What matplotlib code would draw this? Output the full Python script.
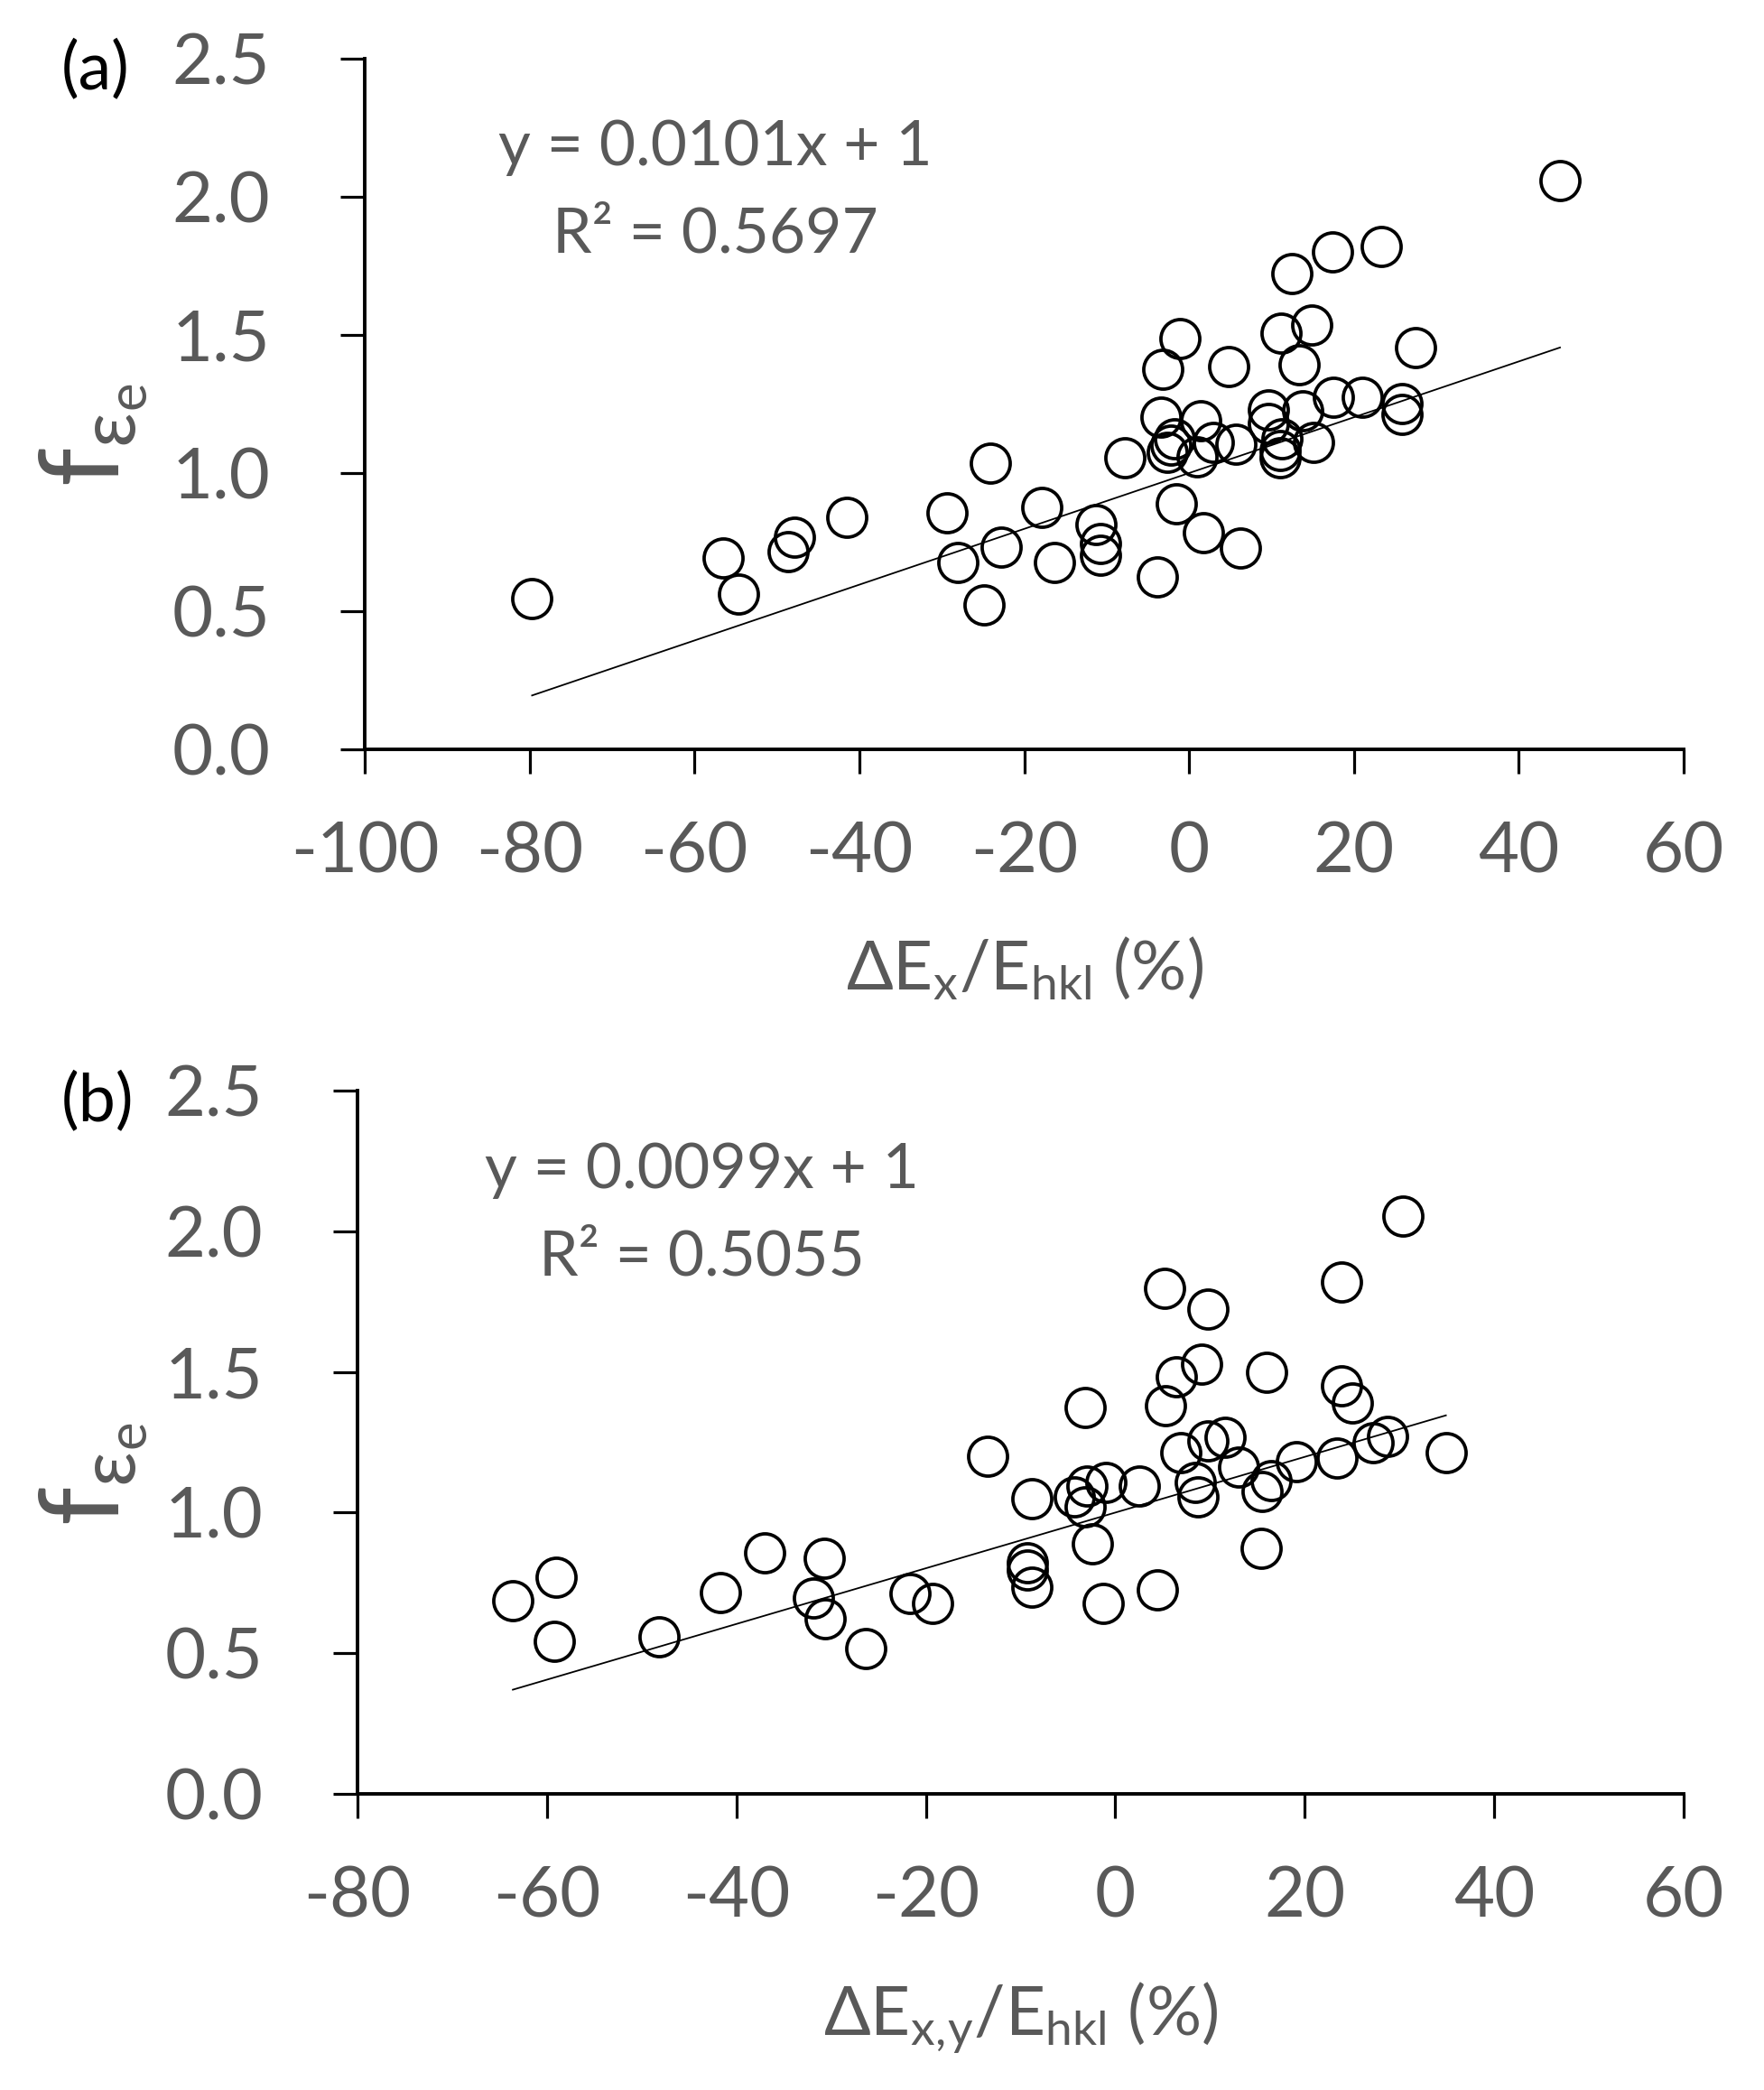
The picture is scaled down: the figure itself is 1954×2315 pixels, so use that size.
"""Two-panel scatter: f_eps_e against the modulus deviation, with the Excel-style
trendline (intercept fixed at 1) and its equation printed in the corner."""

import matplotlib
matplotlib.use("Agg")
import matplotlib.pyplot as plt
import numpy as np

# ---- data ---------------------------------------------------------------
# panel (a): dE_x / E_hkl (%)
x_a = [-79.7, -56.5, -54.7, -47.9, -48.6, -41.5, -29.4, -24.1, -17.9, -28.1,
       -22.8, -24.9, -16.3, -11.3, -10.8, -10.8, -7.8, 45.0, 23.3, 17.4,
       12.5, 14.9, 11.2, 27.5, -1.1, -3.2, 4.8, 13.3, -3.4, 1.4,
       -1.8, -2.2, -2.6, 1.0, 2.9, 5.7, 9.6, 9.6, 11.3, 11.1,
       11.1, 13.8, 15.1, 17.5, 21.0, 25.8, 25.8, -1.5, 1.7, 6.2,
       -3.9]
f_a = [0.545, 0.693, 0.562, 0.767, 0.716, 0.841, 0.857, 1.037, 0.876, 0.678,
       0.731, 0.522, 0.678, 0.813, 0.745, 0.701, 1.054, 2.059, 1.821, 1.800,
       1.722, 1.535, 1.505, 1.455, 1.487, 1.376, 1.385, 1.392, 1.203, 1.188,
       1.125, 1.100, 1.075, 1.060, 1.110, 1.103, 1.228, 1.180, 1.125, 1.083,
       1.055, 1.225, 1.112, 1.275, 1.275, 1.252, 1.214, 0.890, 0.785, 0.728,
       0.624]

# panel (b): dE_x,y / E_hkl (%)
x_b = [-63.6, -59.0, -59.2, -48.2, -41.7, -37.0, -30.7, -31.9, -30.6, -26.3,
       -21.7, -19.3, -13.5, -8.8, -9.3, -9.3, -8.8, 30.4, 5.2, 9.8,
       23.9, 9.1, 6.4, 16.0, 5.3, -3.2, 23.9, 25.0, -4.3, -3.0,
       -1.0, -3.2, 2.5, 6.9, 9.8, 11.6, 8.4, 8.7, 13.0, 16.4,
       15.5, 19.1, 23.4, 27.2, 28.7, 34.9, 15.4, -2.4, -1.3, 4.4]
f_b = [0.686, 0.769, 0.542, 0.558, 0.716, 0.858, 0.839, 0.698, 0.623, 0.518,
       0.711, 0.676, 1.201, 1.048, 0.822, 0.795, 0.735, 2.055, 1.797, 1.723,
       1.820, 1.527, 1.484, 1.498, 1.381, 1.373, 1.451, 1.390, 1.055, 1.094,
       1.108, 1.021, 1.094, 1.214, 1.254, 1.268, 1.108, 1.055, 1.161, 1.115,
       1.075, 1.181, 1.194, 1.247, 1.271, 1.214, 0.872, 0.888, 0.676, 0.726]

# trendline coefficients as printed on the chart
slope_a, r2_a = 0.0101, 0.5697
slope_b, r2_b = 0.0099, 0.5055
intercept = 1.0

xticks_a = np.arange(-100, 61, 20)
xticks_b = np.arange(-80, 61, 20)
yticks = np.arange(0.0, 2.51, 0.5)

GREY = "#595959"
FONT = "Lato"

plt.rcParams["font.family"] = [FONT, "DejaVu Sans"]


def draw_panel(fig, rect, x, f, slope, r2, xticks, xlabel, tag,
               eq_x, eq_y1, eq_y2, xlab_y, ylab_xy, tag_xy):
    ax = fig.add_axes(rect)
    ax.plot(x, f, linestyle="none", marker="o", ms=31, mew=2.7,
            mfc="none", mec="black", zorder=3)

    xs = np.array([min(x), max(x)])
    ax.plot(xs, slope * xs + intercept, color="black", lw=1.3, zorder=2)

    ax.set_xlim(xticks[0], xticks[-1])
    ax.set_ylim(0, 2.5)
    ax.set_xticks(xticks)
    ax.set_yticks(yticks)
    ax.set_xticklabels([f"{t:d}" for t in xticks])
    ax.set_yticklabels([f"{t:.1f}" for t in yticks])

    for side in ("top", "right"):
        ax.spines[side].set_visible(False)
    for side in ("left", "bottom"):
        ax.spines[side].set_linewidth(2.8)
    ax.tick_params(axis="both", direction="out", length=19.5, width=2.3,
                   labelsize=56, labelcolor=GREY)
    ax.tick_params(axis="y", pad=56)
    ax.tick_params(axis="x", pad=38)

    ax.text(eq_x, eq_y1, f"y = {slope:.4f}x + {intercept:.0f}",
            transform=ax.transAxes, ha="center", va="baseline",
            fontsize=50, color=GREY)
    ax.text(eq_x, eq_y2, f"R² = {r2:.4f}",
            transform=ax.transAxes, ha="center", va="baseline",
            fontsize=50, color=GREY)

    ax.set_xlabel(xlabel, fontsize=55, color=GREY)
    ax.xaxis.set_label_coords(0.5, xlab_y)

    W, H = fig.get_size_inches() * fig.dpi
    fig.text(ylab_xy[0] / W, 1 - ylab_xy[1] / H,
             r"$\mathregular{f_{ε_e}}$", rotation=90,
             ha="center", va="center", fontsize=88, color=GREY)
    fig.text(tag_xy[0] / W, 1 - tag_xy[1] / H, tag,
             ha="center", va="center", fontsize=53, color="black")
    return ax


def main():
    fig = plt.figure(figsize=(19.54, 23.15), dpi=100)
    W, H = 1954, 2315

    # panel (a): axes box in pixels (left, top, right, bottom)
    l, t, r, b = 404, 65, 1865, 830
    draw_panel(fig, [l / W, 1 - b / H, (r - l) / W, (b - t) / H],
               x_a, f_a, slope_a, r2_a, xticks_a,
               r"$\mathregular{ΔE_x/E_{hkl}}$ (%)", "(a)",
               0.2656, 0.8464, 0.7190, -0.268, (104, 482), (106, 78))

    l, t, r, b = 396, 1208, 1865, 1987
    draw_panel(fig, [l / W, 1 - b / H, (r - l) / W, (b - t) / H],
               x_b, f_b, slope_b, r2_b, xticks_b,
               r"$\mathregular{ΔE_{x,\!y}/E_{hkl}}$ (%)", "(b)",
               0.2594, 0.8614, 0.7381, -0.265, (104, 1633), (108, 1221))

    fig.savefig("out.png", dpi=100)


if __name__ == "__main__":
    main()
